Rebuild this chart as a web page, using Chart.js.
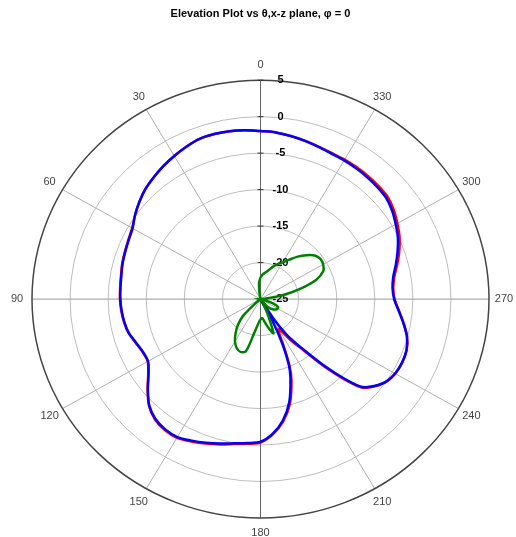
<!DOCTYPE html>
<html>
<head>
<meta charset="utf-8">
<script src="https://cdn.jsdelivr.net/npm/chart.js@4.4.0/dist/chart.umd.min.js"></script>
<style>
  html, body { margin: 0; padding: 0; background: #fff; }
  #wrap { width: 516px; height: 537px; }
</style>
</head>
<body>
<div id="wrap"><canvas id="polarChart"></canvas></div>
<script>
// Theta in degrees (counter-clockwise from top), gain in dB
const angles = [0, 5, 10, 15, 20, 25, 30, 35, 40, 45, 50, 55, 60, 65, 70, 75, 80, 85, 90, 95,
  100, 105, 110, 115, 120, 125, 130, 135, 140, 145, 150, 155, 160, 165, 170, 175, 180, 185, 190, 195,
  200, 202.5, 205, 207.5, 210, 212.5, 215, 217.5, 220, 222.5, 225, 227.5, 230,
  235, 240, 245, 250, 255, 260, 265, 270, 275, 280, 285, 290, 295, 300, 305, 310, 315,
  320, 325, 330, 335, 340, 345, 350, 355];

const blueDb = [-1.95, -1.78, -1.63, -1.57, -1.62, -1.95, -2.35, -2.75, -3.2, -3.65,
  -4.25, -4.9, -5.6, -5.9, -6.1, -6.25, -6.45, -6.55, -6.6, -6.7,
  -6.85, -7.1, -7.6, -7.95, -7.95, -7.05, -5.7, -4.35, -3.55, -3.2,
  -3.17, -3.6, -4.05, -4.5, -4.93, -5.2, -5.45, -6.5, -8.1, -10.4,
  -13.5,
  -15.3, -18.1, -21.5, -25, -21.8, -19.0, -17.4, -15.4, -12.6, -9.8, -7.3, -6.3,
  -5.1, -4.6, -4.48, -4.6, -5.1, -5.95, -6.8, -7.45, -7.6, -7.3, -6.6, -5.85, -5.1,
  -4.5, -3.9, -3.45, -3.3, -3.2, -3.12, -3.05, -3.0, -2.8, -2.55, -2.3, -2.08];

const redDb = [-1.95, -1.78, -1.63, -1.57, -1.62, -1.95, -2.35, -2.75, -3.2, -3.65,
  -4.25, -4.9, -5.55, -5.85, -6.05, -6.2, -6.4, -6.5, -6.55, -6.65,
  -6.8, -7.05, -7.55, -7.9, -7.9, -7.0, -5.65, -4.3, -3.45, -3.08,
  -3.05, -3.48, -3.93, -4.38, -4.82, -5.1, -5.35, -6.4, -7.95, -10.1,
  -13.1,
  -15.0, -17.6, -19.6, -20.3, -19.6, -18.2, -16.9, -14.9, -12.2, -9.5, -7.1, -6.2,
  -5.05, -4.57, -4.45, -4.57, -5.07, -5.9, -6.75, -7.4, -7.5, -7.15, -6.4, -5.6, -4.85,
  -4.25, -3.65, -3.2, -3.08, -3.0, -2.95, -2.92, -2.9, -2.75, -2.52, -2.28, -2.07];

const greenDb = [-22.0, -22.8, -24.3, -25, -25, -25, -25, -25, -25, -25,
  -25, -25, -25, -25, -25, -25, -25, -25, -25, -25,
  -25, -25, -25, -25, -25, -25, -24.2, -21.8, -20.4, -19.3,
  -18.3, -17.6, -17.3, -17.6, -20.3, -21.6, -22.2, -22.4, -21.8, -20.9,
  -20.0,
  -21.8, -23.0, -24.2, -25, -25, -25, -24.8, -24.0, -23.5, -23.2, -23.0, -22.8,
  -22.5, -22.4, -22.45, -23.2, -24.4, -25, -25, -25, -24.4, -22.2, -19.7, -17.2, -15.9,
  -15.5, -15.4, -15.7, -16.5, -17.4, -18.4, -19.2, -19.7, -20.3, -20.9, -21.3, -21.6];

const ringTicks = [-25, -20, -15, -10, -5, 0, 5];
const angleTicks = [0, 30, 60, 90, 120, 150, 180, 210, 240, 270, 300, 330];
const rMin = -25;
const rMax = 5;

// polar (theta, dB) -> x/y in "dB above centre" units, loop closed
function toXY(values) {
  const pts = angles.map((a, i) => {
    const r = Math.max(values[i], rMin) - rMin;
    const t = a * Math.PI / 180;
    return { x: -r * Math.sin(t), y: r * Math.cos(t) };
  });
  pts.push(pts[0]);
  return pts;
}

// draws the rings, spokes and labels from the x/y scales
const polarGrid = {
  id: 'polarGrid',
  beforeDatasetsDraw(chart) {
    const { ctx } = chart;
    const xs = chart.scales.x;
    const ys = chart.scales.y;
    const cx = xs.getPixelForValue(0);
    const cy = ys.getPixelForValue(0);
    const radii = db => ({
      rx: xs.getPixelForValue(db - rMin) - cx,
      ry: cy - ys.getPixelForValue(db - rMin)
    });
    const outer = radii(rMax);

    ctx.save();
    // inner rings
    ringTicks.forEach(db => {
      if (db <= rMin || db === rMax) return;
      const { rx, ry } = radii(db);
      ctx.beginPath();
      ctx.ellipse(cx, cy, rx, ry, 0, 0, Math.PI * 2);
      ctx.strokeStyle = '#bdbdbd';
      ctx.lineWidth = 1;
      ctx.stroke();
    });

    // spokes
    angleTicks.forEach(a => {
      const t = a * Math.PI / 180;
      ctx.beginPath();
      ctx.moveTo(cx, cy);
      ctx.lineTo(cx - outer.rx * Math.sin(t), cy - outer.ry * Math.cos(t));
      ctx.strokeStyle = a % 180 === 0 ? '#666' : (a % 90 === 0 ? '#999' : '#b0b0b0');
      ctx.lineWidth = 1;
      ctx.stroke();
    });

    // outer ring
    ctx.beginPath();
    ctx.ellipse(cx, cy, outer.rx, outer.ry, 0, 0, Math.PI * 2);
    ctx.strokeStyle = '#444';
    ctx.lineWidth = 1.5;
    ctx.stroke();

    // tick marks + dB labels on the vertical axis
    ctx.font = 'bold 11px "Liberation Sans", Arial, sans-serif';
    ctx.textAlign = 'center';
    ctx.textBaseline = 'middle';
    ringTicks.forEach(db => {
      const { ry } = radii(db);
      const yy = cy - ry;
      ctx.beginPath();
      ctx.moveTo(cx - 3, yy);
      ctx.lineTo(cx + 3, yy);
      ctx.strokeStyle = '#333';
      ctx.lineWidth = 1;
      ctx.stroke();
      ctx.fillStyle = '#000';
      ctx.fillText(String(db), cx + 20, yy);
    });

    // angle labels
    ctx.font = '11px "Liberation Sans", Arial, sans-serif';
    ctx.fillStyle = '#444';
    angleTicks.forEach(a => {
      const t = a * Math.PI / 180;
      const lx = cx - (outer.rx + 15) * Math.sin(t);
      const ly = cy - (outer.ry + 15) * Math.cos(t);
      ctx.fillText(String(a), lx, ly);
    });
    ctx.restore();
  }
};

const lineSet = (data, color) => ({
  data: toXY(data),
  showLine: true,
  borderColor: color,
  backgroundColor: color,
  borderWidth: 2.5,
  pointRadius: 0,
  tension: 0.3,
  fill: false
});

new Chart(document.getElementById('polarChart'), {
  type: 'scatter',
  data: {
    datasets: [
      lineSet(greenDb, '#008000'),
      lineSet(blueDb, '#0000ff'),
      lineSet(redDb, '#ff0000')
    ]
  },
  options: {
    responsive: true,
    maintainAspectRatio: false,
    animation: false,
    layout: { padding: { left: 32, right: 27, top: 0, bottom: 19 } },
    plugins: {
      legend: { display: false },
      tooltip: { enabled: false },
      title: {
        display: true,
        text: 'Elevation Plot vs θ,x-z plane, φ = 0',
        color: '#000',
        font: { family: '"Liberation Sans", Arial, sans-serif', size: 11, weight: 'bold' },
        padding: { top: 7, bottom: 60 }
      }
    },
    scales: {
      x: { type: 'linear', min: -30, max: 30, display: false },
      y: { type: 'linear', min: -30, max: 30, display: false }
    }
  },
  plugins: [polarGrid]
});
</script>
</body>
</html>
